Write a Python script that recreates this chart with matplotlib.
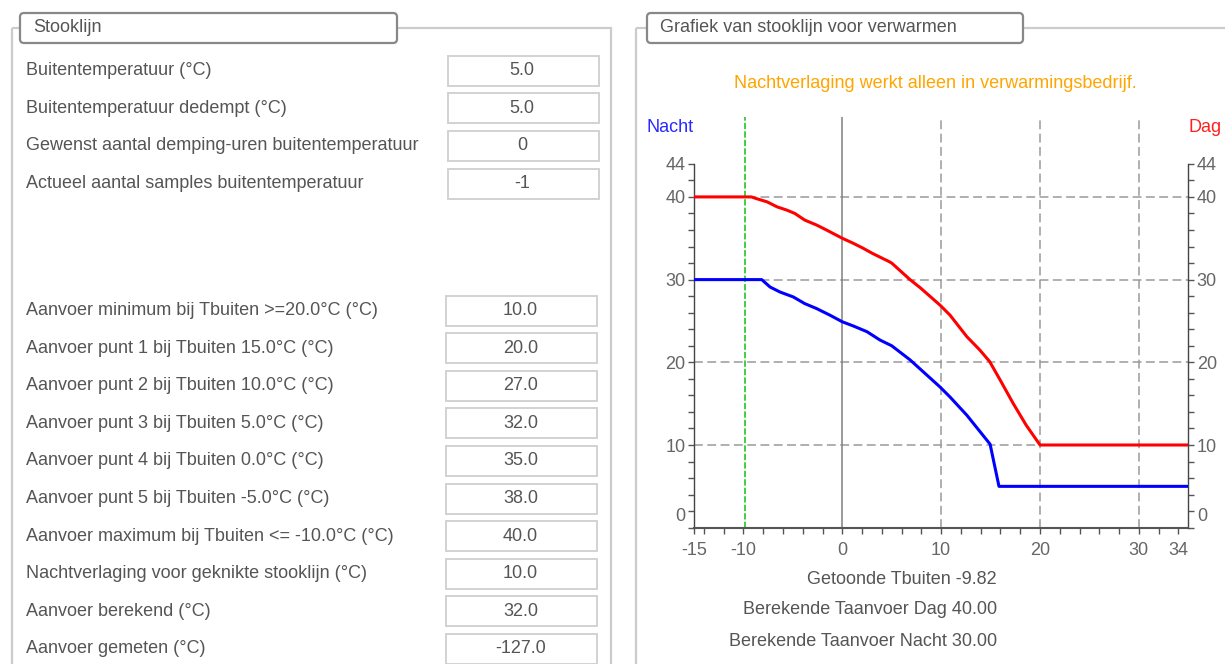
import matplotlib.pyplot as plt
import numpy as np
from matplotlib.patches import Rectangle, FancyBboxPatch

plt.rcParams['font.family'] = ['Liberation Sans', 'DejaVu Sans']

# form data (left panel)
top_labels = ["Buitentemperatuur (°C)", "Buitentemperatuur dedempt (°C)",
              "Gewenst aantal demping-uren buitentemperatuur",
              "Actueel aantal samples buitentemperatuur"]
top_values = ["5.0", "5.0", "0", "-1"]
bottom_labels = ["Aanvoer minimum bij Tbuiten >=20.0°C (°C)",
                 "Aanvoer punt 1 bij Tbuiten 15.0°C (°C)",
                 "Aanvoer punt 2 bij Tbuiten 10.0°C (°C)",
                 "Aanvoer punt 3 bij Tbuiten 5.0°C (°C)",
                 "Aanvoer punt 4 bij Tbuiten 0.0°C (°C)",
                 "Aanvoer punt 5 bij Tbuiten -5.0°C (°C)",
                 "Aanvoer maximum bij Tbuiten <= -10.0°C (°C)",
                 "Nachtverlaging voor geknikte stooklijn (°C)",
                 "Aanvoer berekend (°C)",
                 "Aanvoer gemeten (°C)"]
bottom_values = ["10.0", "20.0", "27.0", "32.0", "35.0", "38.0", "40.0",
                 "10.0", "32.0", "-127.0"]

# stooklijn curves
dag_x = [-15, -9.2, -8.7, -7.6, -6.6, -5.6, -4.8, -3.8, -2.6, -1.6, 0, 1.1, 2.1,
         3.0, 4.7, 5.0, 6.85, 7.9, 9.9, 10.9, 12.6, 13.9, 14.9, 15.95, 17.3, 18.6, 20, 35]
dag_y = [40, 40, 39.8, 39.4, 38.8, 38.4, 38.0, 37.2, 36.6, 36.0, 35.0, 34.4, 33.8,
         33.2, 32.2, 32.0, 30.0, 29.0, 26.9, 25.7, 23.1, 21.5, 20.1, 17.9, 15.0, 12.4, 10, 10]
nacht_x = [-15, -8.15, -7.3, -6.3, -4.95, -3.8, -2.6, -1.25, 0, 1.1, 2.5, 3.8, 5.0,
           6.85, 9.9, 10.9, 12.6, 14.95, 15.85, 35]
nacht_y = [30, 30, 29.1, 28.5, 27.9, 27.1, 26.5, 25.7, 24.9, 24.4, 23.7, 22.7, 22.0,
           20.3, 17.0, 15.8, 13.6, 10.1, 5, 5]
t_buiten = -9.82
x_ticks = [-15, -10, 0, 10, 20, 30, 34]
y_ticks = [0, 10, 20, 30, 40, 44]
grid_y = [10, 20, 30, 40]
grid_x = [10, 20, 30]
info_lines = ["Getoonde Tbuiten -9.82", "Berekende Taanvoer Dag 40.00",
              "Berekende Taanvoer Nacht 30.00"]

W, H = 1225, 664
FS = 13.0
TXT = '#555555'

fig = plt.figure(figsize=(W / 100, H / 100), dpi=100)
bg = fig.add_axes([0, 0, 1, 1])
bg.set_xlim(0, W)
bg.set_ylim(H, 0)
bg.axis('off')

# panel frames
bg.add_patch(Rectangle((12, 28), 599, 700, fill=False, ec='#cccccc', lw=1.6))
bg.add_patch(Rectangle((636, 28), 700, 700, fill=False, ec='#cccccc', lw=1.6))
for x0, x1, title in [(20, 397, "Stooklijn"), (647, 1023, "Grafiek van stooklijn voor verwarmen")]:
    bg.add_patch(FancyBboxPatch((x0, 13), x1 - x0, 30, boxstyle="round,pad=0,rounding_size=4",
                                fc='white', ec='#888888', lw=1.6, zorder=3))
    bg.text(x0 + 13, 28, title, fontsize=FS, color=TXT, va='center', zorder=4)

# form rows
def form_rows(labels, values, y0, bx0, bx1):
    for i, (lab, val) in enumerate(zip(labels, values)):
        yc = y0 + i * 37.6
        bg.text(26, yc, lab, fontsize=FS, color=TXT, va='center')
        bg.add_patch(Rectangle((bx0, yc - 15), bx1 - bx0, 30, fill=False, ec='#d2d2d2', lw=1.4))
        bg.text((bx0 + bx1) / 2 - 1, yc, val, fontsize=FS, color=TXT, va='center', ha='center')

form_rows(top_labels, top_values, 70.7, 447.5, 598.5)
form_rows(bottom_labels, bottom_values, 310.5, 446, 597)

# chart texts
bg.text(935, 84, "Nachtverlaging werkt alleen in verwarmingsbedrijf.", fontsize=FS,
        color='#ffa500', ha='center', va='center')
bg.text(646, 127, "Nacht", fontsize=FS, color='#2a2aff', va='center')
bg.text(1189, 127, "Dag", fontsize=FS, color='#ff2020', va='center')
for i, line in enumerate(info_lines):
    bg.text(997, 579 + i * 31, line, fontsize=FS, color=TXT, ha='right', va='center')

# chart
ax = fig.add_axes([694 / W, 1 - 527.7 / H, (1188.3 - 694) / W, (527.7 - 116.7) / H])
ax.set_facecolor('none')
ax.set_xlim(-15, 35)
ax.set_ylim(0, 49.7)

for g in grid_y:
    ax.axhline(g, color='#9a9a9a', lw=1.1, dashes=(5.8, 2.9), zorder=1)
for g in grid_x:
    ax.axvline(g, color='#9a9a9a', lw=1.1, dashes=(5.8, 2.9), zorder=1)
ax.axvline(0, color='#808080', lw=1.1, zorder=1)
ax.axvline(t_buiten, color='#33cc33', lw=1.3, dashes=(3.5, 1.2), zorder=2)

ax.plot(nacht_x, nacht_y, color='#0000ff', lw=2.2, zorder=3, solid_joinstyle='round')
ax.plot(dag_x, dag_y, color='#ff0000', lw=2.2, zorder=3, solid_joinstyle='round')

ax.spines['top'].set_visible(False)
for s in ['left', 'right']:
    ax.spines[s].set_bounds(0, 44)
    ax.spines[s].set_color('#444444')
    ax.spines[s].set_linewidth(1.0)
ax.spines['bottom'].set_color('#555555')
ax.spines['bottom'].set_linewidth(1.5)

ax.set_xticks(x_ticks)
ax.set_xticklabels([str(v) for v in x_ticks])
ax.set_xticks(np.arange(-14, 35, 2), minor=True)
ax.set_yticks(y_ticks)
ax.set_yticklabels([''] + [str(v) for v in y_ticks[1:]])
ax.set_yticks(np.arange(0, 45, 2), minor=True)
ax.tick_params(which='both', length=4, width=1, color='#555555', labelsize=FS,
               labelcolor='#666666', right=True, labelright=True, pad=2)
ax.tick_params(axis='x', pad=6)
# zero labels sit slightly above the axis
ax.text(-0.018, 1.3, "0", transform=ax.get_yaxis_transform(), ha='right', va='center',
        fontsize=FS, color='#666666')
ax.text(1.018, 1.3, "0", transform=ax.get_yaxis_transform(), ha='left', va='center',
        fontsize=FS, color='#666666')

fig.savefig('out.png', dpi=100)
